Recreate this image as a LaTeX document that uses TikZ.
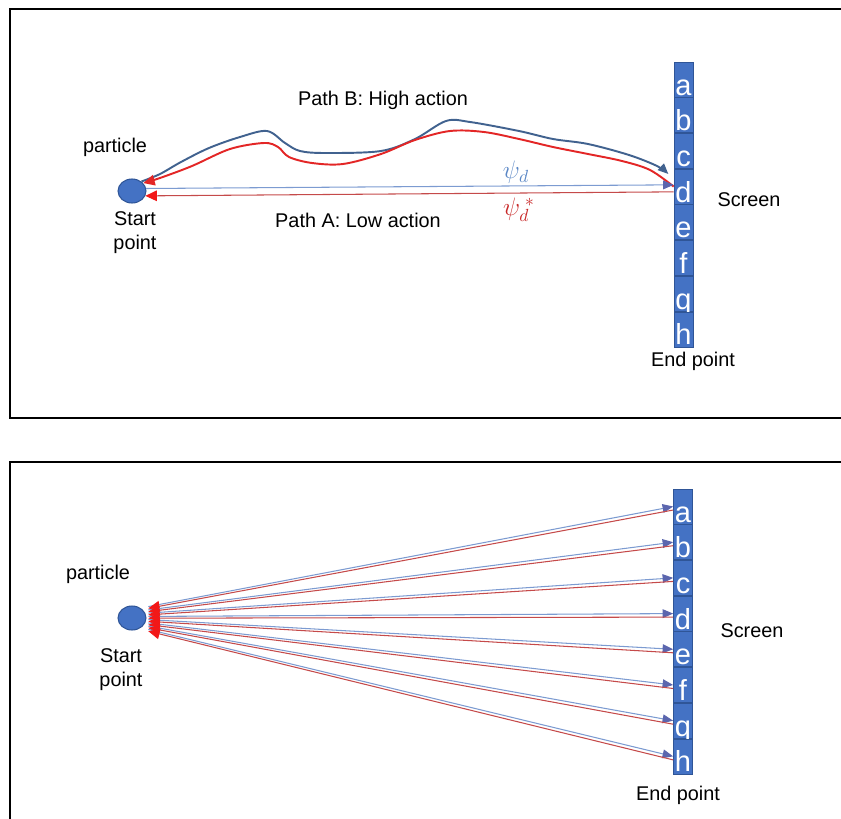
\documentclass[tikz,border=0pt]{standalone}
\usepackage{fontspec}
\setmainfont{Liberation Sans}
\usetikzlibrary{positioning,shapes.geometric,arrows.meta}

\definecolor{cellblue}{HTML}{4472C4}
\definecolor{cellline}{HTML}{2F5597}
\definecolor{curveblue}{HTML}{41628F}
\definecolor{curvered}{HTML}{E32626}
\definecolor{lineblue}{HTML}{7C9BD1}
\definecolor{tipblue}{HTML}{5B66AE}
\definecolor{linered}{HTML}{C54A4A}
\definecolor{tipred}{HTML}{F21818}
\definecolor{psiblue}{HTML}{5B87C5}
\definecolor{psired}{HTML}{C82828}

\begin{document}
\begin{tikzpicture}[x=0.02cm, y=-0.02cm]
    \tikzstyle{cell} = [rectangle, draw=cellline, line width=0.4pt, fill=cellblue,
        text=white, minimum width=0.38cm, minimum height=0.7cm, inner xsep=0pt,
        inner ysep=1.1pt, text height=17.7pt, text depth=0pt,
        font=\fontsize{16.5}{16.5}\selectfont]
    \tikzstyle{dot} = [ellipse, draw=cellline, line width=0.6pt, fill=cellblue,
        minimum width=0.56cm, minimum height=0.48cm, inner sep=0pt]
    \tikzstyle{txt} = [align=center, inner sep=0pt,
        font=\fontsize{11.3}{13.6}\selectfont]
    \tikzstyle{frame} = [draw=black, line width=1.3pt]
    \tikzstyle{barrow} = [-{Triangle[length=6pt,width=5pt,color=tipblue]},
        draw=lineblue, line width=0.6pt]
    \tikzstyle{rarrow} = [-{Triangle[length=6.5pt,width=6pt,color=tipred]},
        draw=linered, line width=0.6pt]
    \tikzstyle{bcurve} = [-{Triangle[length=6pt,width=5pt]}, draw=curveblue,
        line width=1.1pt]
    \tikzstyle{rcurve} = [-{Triangle[length=6.5pt,width=6pt]}, draw=curvered,
        line width=1.1pt]

    \useasboundingbox (0,0) rectangle (841,818);
    \clip (0,0) rectangle (841,818);

    \draw[frame] (10,9) rectangle (860,418);
    \draw[frame] (10,462) rectangle (860,840);

    \node(p1) [dot] at (132,191) {};
    \node(part1) [txt] at (115,147) {particle};
    \node(start1) [txt] at (135,233) {Start\\point};

    \node(ta) [cell] at (683.5,79.5) {a};
    \node(tb) [cell, below=0pt of ta] {b};
    \node(tc) [cell, below=0pt of tb] {c};
    \node(td) [cell, below=0pt of tc] {d};
    \node(te) [cell, below=0pt of td] {e};
    \node(tf) [cell, below=0pt of te] {f};
    \node(tq) [cell, below=0pt of tf] {q};
    \node(th) [cell, below=0pt of tq] {h};

    \node(scr1) [txt] at (749,200) {Screen};
    \node(end1) [txt] at (693,361) {End point};
    \node(pathb) [txt] at (383,100) {Path B: High action};
    \node(patha) [txt] at (358,220) {Path A: Low action};
    \node(psi1) [text=psiblue, font=\fontsize{14}{14}\selectfont]
        at (516,172) {$\psi_d$};
    \node(psi2) [text=psired, font=\fontsize{14}{14}\selectfont]
        at (519,210) {$\psi_d^{\;*}$};

    \draw[bcurve] plot[smooth, tension=0.55] coordinates {(p1.45) (160,174)
        (181,162) (209,148) (240,137) (267,131) (285,143) (300,151) (326,153)
        (381,151) (415,139) (446,121) (470,122) (519,131) (553,139) (588,144)
        (629,155) (657,166) ([xshift=-3pt,yshift=-3pt]tc.south west)};
    \draw[rcurve] plot[smooth, tension=0.55] coordinates {(td.west) (650,170)
        (622,161) (588,154) (553,147) (519,139) (484,132) (450,131) (415,140)
        (381,154) (343,164) (312,163) (289,157) (278,147) (264,143) (230,149)
        (192,166) (160,178) (p1.35)};

    \draw[barrow] (p1.10) -- ([yshift=1pt]td.west);
    \draw[rarrow] ([yshift=-3pt]td.west) -- (p1.-20);

    \node(p2) [dot] at (132,618) {};
    \node(part2) [txt] at (98,574) {particle};
    \node(start2) [txt] at (121,670) {Start\\point};

    \node(ba) [cell] at (683,506.5) {a};
    \node(bb) [cell, below=0pt of ba] {b};
    \node(bc) [cell, below=0pt of bb] {c};
    \node(bd) [cell, below=0pt of bc] {d};
    \node(be) [cell, below=0pt of bd] {e};
    \node(bf) [cell, below=0pt of be] {f};
    \node(bq) [cell, below=0pt of bf] {q};
    \node(bh) [cell, below=0pt of bq] {h};

    \node(scr2) [txt] at (752,631) {Screen};
    \node(end2) [txt] at (678,795) {End point};

    \foreach \c/\s in {ba/6.5, bb/4.6, bc/2.8, bd/0.9, be/-0.9, bf/-2.8, bq/-4.6, bh/-6.5} {
        \draw[barrow] ([xshift=1pt,yshift=\s pt]p2.east) -- (\c.west);
        \draw[rarrow] ([yshift=-2pt]\c.west) -- ([xshift=1pt,yshift=\s pt-1pt]p2.east);
    }
\end{tikzpicture}
\end{document}
